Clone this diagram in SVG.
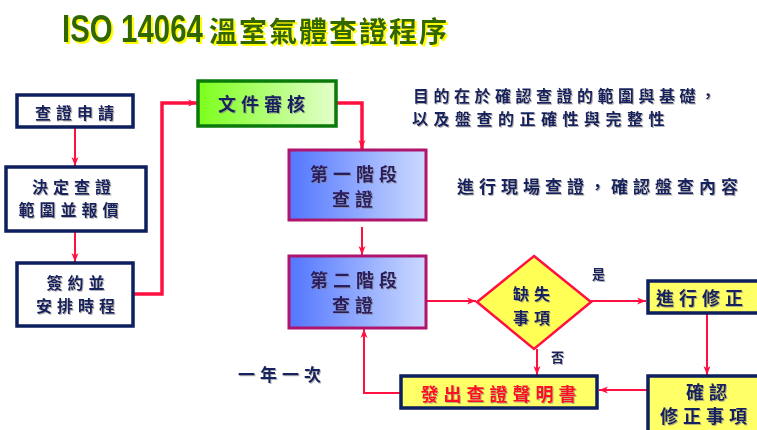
<svg xmlns="http://www.w3.org/2000/svg" width="757" height="430" viewBox="0 0 757 430">
  <defs>
    <linearGradient id="gGreen" x1="0" y1="0" x2="1" y2="0">
      <stop offset="0" stop-color="#7cff1c"/>
      <stop offset="1" stop-color="#e4ffcc"/>
    </linearGradient>
    <linearGradient id="gBlue" x1="0" y1="0" x2="1" y2="0">
      <stop offset="0" stop-color="#5276ff"/>
      <stop offset="1" stop-color="#ccdaff"/>
    </linearGradient>
    <filter id="yShadow" x="-5%" y="-20%" width="110%" height="140%">
      <feDropShadow dx="2" dy="2" stdDeviation="0" flood-color="#ffff00" flood-opacity="1"/>
    </filter>
    <filter id="gShadow" x="-5%" y="-20%" width="110%" height="140%">
      <feDropShadow dx="1" dy="1" stdDeviation="0.6" flood-color="#808080" flood-opacity="0.6"/>
    </filter>
    <marker id="arr" markerUnits="userSpaceOnUse" markerWidth="10" markerHeight="10" viewBox="0 0 10 10" refX="9" refY="5" orient="auto">
      <path d="M0,1.5 L9,5 L0,8.5 L2.5,5 Z" fill="#ff1040"/>
    </marker>
  </defs>
  <style>
    .cjk { font-family: "Noto Sans CJK TC", "Noto Sans CJK SC", sans-serif; font-weight: 700; }
    .lbl { fill: #17205e; font-size: 16px; letter-spacing: 5px; text-anchor: middle; dominant-baseline: central; filter: url(#gShadow); }
    .big { font-size: 18px; letter-spacing: 5px; }
    .pur { fill: #2a1a5e; }
    .note { fill: #17205e; font-size: 16px; letter-spacing: 4.5px; dominant-baseline: central; filter: url(#gShadow); }
    .wbox { fill: #ffffff; stroke: #0d1f5e; stroke-width: 3.5; }
    .ybox { fill: #ffff66; stroke: #0d1f5e; stroke-width: 3.5; }
    .pbox { fill: url(#gBlue); stroke: #b0156e; stroke-width: 3; }
    .gbox { fill: url(#gGreen); stroke: #0a7a0a; stroke-width: 3.5; }
    .con { fill: none; stroke: #ff1040; stroke-width: 2; marker-end: url(#arr); }
    .thick { stroke-width: 3.5; }
  </style>
  <rect width="757" height="430" fill="#ffffff"/>

  <g id="title" filter="url(#yShadow)" fill="#336600">
    <text transform="translate(62,42) scale(1,1.3)" x="0" y="0" font-family="Liberation Sans, Arial, sans-serif" font-weight="700" font-size="29.5">ISO 14064</text>
    <text x="209" y="42" class="cjk" style="font-size:28px; letter-spacing:2px">溫室氣體查證程序</text>
  </g>

  <g id="connectors">
    <path class="con" d="M75,127 V166"/>
    <path class="con" d="M75,232 V262"/>
    <path class="con thick" d="M134,294 H162 V103 H197"/>
    <path class="con thick" d="M337,103 H362 V149"/>
    <path class="con" d="M362,227 V255"/>
    <path class="con" d="M427,301 H476"/>
    <path class="con" d="M591,301 H646"/>
    <path class="con" d="M707,314 V375"/>
    <path class="con" d="M647,390 H599"/>
    <path class="con" d="M537,349 V375"/>
    <path class="con" d="M400,393 H364 V329"/>
  </g>

  <g id="n-apply">
    <rect class="wbox" x="17" y="95" width="116" height="32"/>
    <text class="cjk lbl" x="77" y="112">查證申請</text>
  </g>
  <g id="n-scope">
    <rect class="wbox" x="6" y="167" width="140" height="64"/>
    <text class="cjk lbl" x="74" y="186">決定查證</text>
    <text class="cjk lbl" x="71" y="209">範圍並報價</text>
  </g>
  <g id="n-contract">
    <rect class="wbox" x="17" y="263" width="116" height="63"/>
    <text class="cjk lbl" x="78" y="282">簽約並</text>
    <text class="cjk lbl" x="78" y="305">安排時程</text>
  </g>
  <g id="n-doc">
    <rect class="gbox" x="198" y="81" width="138" height="45"/>
    <text class="cjk lbl big" x="264" y="103">文件審核</text>
  </g>
  <g id="n-stage1">
    <rect class="pbox" x="289" y="150" width="137" height="70"/>
    <text class="cjk lbl big pur" x="356" y="173">第一階段</text>
    <text class="cjk lbl big pur" x="355" y="198">查證</text>
  </g>
  <g id="n-stage2">
    <rect class="pbox" x="289" y="256" width="137" height="72"/>
    <text class="cjk lbl big pur" x="356" y="279">第二階段</text>
    <text class="cjk lbl big pur" x="355" y="304">查證</text>
  </g>
  <g id="n-defect">
    <polygon points="534,256 591,302 534,349 477,302" fill="#ffff55" stroke="#ff1040" stroke-width="2.5"/>
    <text class="cjk lbl" x="534" y="293">缺失</text>
    <text class="cjk lbl" x="534" y="317">事項</text>
  </g>
  <g id="n-correct">
    <rect class="ybox" x="648" y="281" width="120" height="32"/>
    <text class="cjk lbl big" x="702" y="297">進行修正</text>
  </g>
  <g id="n-confirm">
    <rect class="ybox" x="648" y="376" width="120" height="70"/>
    <text class="cjk lbl big" x="709" y="391">確認</text>
    <text class="cjk lbl big" x="706" y="415">修正事項</text>
  </g>
  <g id="n-statement">
    <rect class="ybox" x="401" y="376" width="196" height="32"/>
    <text class="cjk lbl big" x="501" y="393" style="fill:#ff1020">發出查證聲明書</text>
  </g>

  <g id="notes">
    <text class="cjk note" x="413" y="95">目的在於確認查證的範圍與基礎，</text>
    <text class="cjk note" x="412" y="118" style="letter-spacing:5.5px">以及盤查的正確性與完整性</text>
    <text class="cjk note" x="457" y="185" style="font-size:17px; letter-spacing:5px">進行現場查證，確認盤查內容</text>
    <text class="cjk note" x="238" y="373" style="font-size:17px; letter-spacing:5px">一年一次</text>
    <text class="cjk note" x="592" y="273" style="font-size:13px; letter-spacing:0">是</text>
    <text class="cjk note" x="551" y="356" style="font-size:13px; letter-spacing:0">否</text>
  </g>
</svg>
